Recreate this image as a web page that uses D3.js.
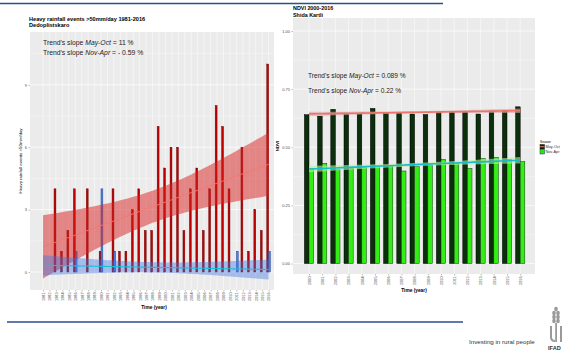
<!DOCTYPE html>
<html>
<head>
<meta charset="utf-8">
<script src="https://cdn.jsdelivr.net/npm/d3@7/dist/d3.min.js"></script>
<style>
  body { margin: 0; background: #fff; }
  svg { display: block; font-family: "Liberation Sans", Arial, sans-serif; }
</style>
</head>
<body>
<svg id="chart" width="564" height="351"></svg>
<script>
// ---- data ----
const rainYears = [1981,1982,1983,1984,1985,1986,1987,1988,1989,1990,1991,1992,1993,1994,1995,1996,1997,1998,
                   1999,2000,2001,2002,2003,2004,2005,2006,2007,2008,2009,2010,2011,2012,2013,2014,2015,2016];
const rainMayOct = [0,0,4,1,2,4,0,4,0,1,0,4,1,1,3,4,2,2,7,5,6,6,2,4,5,2,4,8,7,4,0,6,1,3,2,10];
const rainNovApr = [0,0,0,0,0,1,0,0,0,4,0,1,0,0,0,0,0,0,0,0,0,0,0,0,0,0,0,0,0,0,1,0,0,0,0,1];
const rainTicks = [0,3,6,9];

const ndviYears = [2000,2001,2002,2003,2004,2005,2006,2007,2008,2009,2010,2011,2012,2013,2014,2015,2016];
const ndviMayOct = [0.640,0.634,0.663,0.646,0.646,0.667,0.646,0.649,0.643,0.641,0.650,0.652,0.652,0.643,0.656,0.656,0.674];
const ndviNovApr = [0.409,0.431,0.405,0.409,0.417,0.419,0.419,0.398,0.417,0.424,0.448,0.431,0.409,0.452,0.457,0.448,0.438];
const ndviTicks = [0,0.25,0.5,0.75,1];
const seasons = ["May-Oct","Nov-Apr"];

const svg = d3.select("#chart");
const panelBg = "#ebebeb", tickCol = "#4d4d4d";

// simple least squares fit, with a 95% confidence band like geom_smooth(method = "lm")
function fitLm(xs, ys, tCrit) {
  const n = xs.length, xbar = d3.mean(xs), ybar = d3.mean(ys);
  const sxx = d3.sum(xs, x => (x - xbar) ** 2);
  const sxy = d3.sum(xs, (x, i) => (x - xbar) * (ys[i] - ybar));
  const b = sxy / sxx, a = ybar - b * xbar;
  const sse = d3.sum(xs, (x, i) => (ys[i] - a - b * x) ** 2);
  const s = Math.sqrt(sse / (n - 2));
  return x0 => {
    const fit = a + b * x0;
    const se = tCrit * s * Math.sqrt(1 / n + (x0 - xbar) ** 2 / sxx);
    return { x: x0, fit: fit, lo: fit - se, hi: fit + se };
  };
}

function gridAndAxes(g, x, y, cats, majors, minors, left, right, top, bottom, fmtY) {
  g.append("rect").attr("x", left).attr("y", top).attr("width", right - left).attr("height", bottom - top)
    .attr("fill", panelBg);
  g.selectAll(".minor").data(minors).join("line")
    .attr("x1", left).attr("x2", right).attr("y1", d => y(d)).attr("y2", d => y(d))
    .attr("stroke", "#fff").attr("stroke-width", 0.35);
  g.selectAll(".major").data(majors).join("line")
    .attr("x1", left).attr("x2", right).attr("y1", d => y(d)).attr("y2", d => y(d))
    .attr("stroke", "#fff").attr("stroke-width", 0.7);
  g.selectAll(".vgrid").data(cats).join("line")
    .attr("x1", d => x(d)).attr("x2", d => x(d)).attr("y1", top).attr("y2", bottom)
    .attr("stroke", "#fff").attr("stroke-width", 0.5);

  const ya = g.append("g").attr("transform", `translate(${left},0)`)
    .call(d3.axisLeft(y).tickValues(majors).tickFormat(fmtY).tickSize(1.5).tickPadding(1.5));
  ya.select(".domain").remove();
  ya.selectAll("line").attr("stroke", "#555").attr("stroke-width", 0.4);
  ya.selectAll("text").attr("font-size", 4).attr("fill", tickCol).attr("font-family", null);

  const xa = g.append("g").attr("transform", `translate(0,${bottom})`)
    .call(d3.axisBottom(x).tickValues(cats).tickFormat(d3.format("d")).tickSize(1.5).tickPadding(1));
  xa.select(".domain").remove();
  xa.selectAll("line").attr("stroke", "#555").attr("stroke-width", 0.4);
  xa.selectAll("text").attr("font-size", 3.8).attr("fill", tickCol).attr("font-family", null)
    .attr("transform", "rotate(-90)").attr("text-anchor", "end")
    .attr("x", -2.5).attr("y", 0).attr("dy", "0.35em");
}

function bandPath(x, y) {
  return d3.area().x(d => x(d.x)).y0(d => y(d.lo)).y1(d => y(d.hi));
}

// ================= left chart: heavy rainfall =================
{
  const L = 30, R = 274, T = 32, B = 290;
  const x = d3.scaleLinear().domain([1981, 2016]).range([43, 268.6]);
  const y = d3.scaleLinear().domain([-0.865, 11.54]).range([B, T]);
  const g = svg.append("g");
  gridAndAxes(g, x, y, rainYears, rainTicks, [1.5, 4.5, 7.5, 10.5], L, R, T, B, d3.format("d"));

  const bw = 1.9, off = 0.9;
  g.selectAll(".rMay").data(rainYears.filter((d, i) => rainMayOct[i] > 0)).join("rect")
    .attr("x", d => x(d) - off - bw / 2).attr("width", bw)
    .attr("y", d => y(rainMayOct[rainYears.indexOf(d)]))
    .attr("height", d => y(0) - y(rainMayOct[rainYears.indexOf(d)]))
    .attr("fill", "#c00000").attr("stroke", "#700000").attr("stroke-width", 0.45);
  g.selectAll(".rNov").data(rainYears.filter((d, i) => rainNovApr[i] > 0)).join("rect")
    .attr("x", d => x(d) + off - bw / 2).attr("width", bw)
    .attr("y", d => y(rainNovApr[rainYears.indexOf(d)]))
    .attr("height", d => y(0) - y(rainNovApr[rainYears.indexOf(d)]))
    .attr("fill", "#4d7fe0").attr("stroke", "#24479a").attr("stroke-width", 0.45);

  const grid = d3.range(1981, 2016.01, 0.5);
  const fitMay = fitLm(rainYears, rainMayOct, 2.032), fitNov = fitLm(rainYears, rainNovApr, 2.032);
  const mayPts = grid.map(fitMay), novPts = grid.map(fitNov);
  g.append("path").attr("d", bandPath(x, y)(mayPts)).attr("fill", "#d82020").attr("opacity", 0.5);
  g.append("path").attr("d", bandPath(x, y)(novPts)).attr("fill", "#3a74e6").attr("opacity", 0.4);
  const line = d3.line().x(d => x(d.x)).y(d => y(d.fit));
  g.append("path").attr("d", line(mayPts)).attr("fill", "none").attr("stroke", "#f8766d").attr("stroke-width", 0.9);
  g.append("path").attr("d", line(novPts)).attr("fill", "none").attr("stroke", "#18c0d4").attr("stroke-width", 1.1);

  const t1 = g.append("text").attr("x", 43).attr("y", 45).attr("font-size", 6.8).attr("fill", "#222");
  t1.append("tspan").text("Trend's slope ");
  t1.append("tspan").attr("font-style", "italic").text("May-Oct");
  t1.append("tspan").text(" = 11 %");
  const t2 = g.append("text").attr("x", 43).attr("y", 55).attr("font-size", 6.8).attr("fill", "#222");
  t2.append("tspan").text("Trend's slope ");
  t2.append("tspan").attr("font-style", "italic").text("Nov-Apr");
  t2.append("tspan").text(" = - 0.59 %");

  g.append("text").attr("x", 29).attr("y", 21).attr("font-size", 5.6).attr("font-weight", "bold")
    .text("Heavy rainfall events >50mm/day 1981-2016");
  g.append("text").attr("x", 29).attr("y", 26.5).attr("font-size", 5.6).attr("font-weight", "bold")
    .text("Dedoplistskaro");
  g.append("text").attr("transform", `translate(22,${(T + B) / 2}) rotate(-90)`).attr("text-anchor", "middle")
    .attr("font-size", 4.4).text("Heavy rainfall events >50mm/day");
  g.append("text").attr("x", (L + R) / 2 + 2).attr("y", 309).attr("text-anchor", "middle")
    .attr("font-size", 4.8).attr("font-weight", "bold").text("Time (year)");
}

// ================= right chart: NDVI =================
{
  const L = 293, R = 535, T = 18, B = 274;
  const x = d3.scaleLinear().domain([2000, 2016]).range([309, 520.2]);
  const y = d3.scaleLinear().domain([-0.045, 1.056]).range([B, T]);
  const g = svg.append("g");
  gridAndAxes(g, x, y, ndviYears, ndviTicks, [0.125, 0.375, 0.625, 0.875], L, R, T, B, d3.format(".2f"));

  const bw = 4.6;
  g.selectAll(".nMay").data(ndviYears).join("rect")
    .attr("x", d => x(d) - bw).attr("width", bw)
    .attr("y", (d, i) => y(ndviMayOct[i])).attr("height", (d, i) => y(0) - y(ndviMayOct[i]))
    .attr("fill", "#0a2f0a").attr("stroke", "#000").attr("stroke-width", 0.5);
  g.selectAll(".nNov").data(ndviYears).join("rect")
    .attr("x", d => x(d)).attr("width", bw)
    .attr("y", (d, i) => y(ndviNovApr[i])).attr("height", (d, i) => y(0) - y(ndviNovApr[i]))
    .attr("fill", "#33ee14").attr("stroke", "#0c3a0c").attr("stroke-width", 0.5);

  const grid = d3.range(2000, 2016.01, 0.5);
  const fitMay = fitLm(ndviYears, ndviMayOct, 2.131), fitNov = fitLm(ndviYears, ndviNovApr, 2.131);
  const mayPts = grid.map(fitMay), novPts = grid.map(fitNov);
  g.append("path").attr("d", bandPath(x, y)(mayPts)).attr("fill", "#e0a0a0").attr("opacity", 0.6);
  g.append("path").attr("d", bandPath(x, y)(novPts)).attr("fill", "#b8f0a0").attr("opacity", 0.6);
  const line = d3.line().x(d => x(d.x)).y(d => y(d.fit));
  g.append("path").attr("d", line(mayPts)).attr("fill", "none").attr("stroke", "#ec7468").attr("stroke-width", 1.6);
  g.append("path").attr("d", line(novPts)).attr("fill", "none").attr("stroke", "#16bcc8").attr("stroke-width", 1.6);

  const t1 = g.append("text").attr("x", 308).attr("y", 78).attr("font-size", 6.6).attr("fill", "#222");
  t1.append("tspan").text("Trend's slope ");
  t1.append("tspan").attr("font-style", "italic").text("May-Oct");
  t1.append("tspan").text(" = 0.089 %");
  const t2 = g.append("text").attr("x", 308).attr("y", 92.5).attr("font-size", 6.6).attr("fill", "#222");
  t2.append("tspan").text("Trend's slope ");
  t2.append("tspan").attr("font-style", "italic").text("Nov-Apr");
  t2.append("tspan").text(" = 0.22 %");

  g.append("text").attr("x", 293).attr("y", 10).attr("font-size", 5.4).attr("font-weight", "bold").text("NDVI 2000-2016");
  g.append("text").attr("x", 293).attr("y", 16.5).attr("font-size", 5.4).attr("font-weight", "bold").text("Shida Kartli");
  g.append("text").attr("transform", `translate(279,${(T + B) / 2}) rotate(-90)`).attr("text-anchor", "middle")
    .attr("font-size", 4.4).attr("font-weight", "bold").text("NDVI");
  g.append("text").attr("x", (L + R) / 2).attr("y", 292).attr("text-anchor", "middle")
    .attr("font-size", 4.8).attr("font-weight", "bold").text("Time (year)");

  // legend
  const lg = g.append("g").attr("transform", "translate(540,140)");
  lg.append("text").attr("x", 0).attr("y", 3).attr("font-size", 3.2).text("Season");
  const keyFill = ["#0a2f0a", "#33ee14"], keyLine = ["#ec7468", "#16bcc8"];
  seasons.forEach((s, i) => {
    const ky = 4.5 + i * 5;
    lg.append("rect").attr("x", 0).attr("y", ky).attr("width", 4.5).attr("height", 4.5)
      .attr("fill", keyFill[i]).attr("stroke", "#000").attr("stroke-width", 0.4);
    lg.append("line").attr("x1", 0).attr("x2", 4.5).attr("y1", ky + 2.25).attr("y2", ky + 2.25)
      .attr("stroke", keyLine[i]).attr("stroke-width", 1);
    lg.append("text").attr("x", 5.5).attr("y", ky + 3.6).attr("font-size", 3.8).attr("fill", "#333").text(s);
  });
}

// ================= slide decoration =================
svg.append("line").attr("x1", 0).attr("x2", 443).attr("y1", 3.5).attr("y2", 3.5)
  .attr("stroke", "#2b4f8c").attr("stroke-width", 1.4);
svg.append("line").attr("x1", 7).attr("x2", 463).attr("y1", 322).attr("y2", 322)
  .attr("stroke", "#2b4f8c").attr("stroke-width", 1.4);
svg.append("text").attr("x", 469).attr("y", 344).attr("font-size", 6.2).attr("fill", "#333")
  .text("Investing in rural people");

// small IFAD mark
const logo = svg.append("g").attr("fill", "#9a9a9a");
[[556, 309], [554, 313], [558, 313], [554, 317], [558, 317], [554, 321], [558, 321]].forEach(p => {
  logo.append("ellipse").attr("cx", p[0]).attr("cy", p[1]).attr("rx", 1.8).attr("ry", 2.2);
});
logo.append("path").attr("d", "M550,326 L552,326 L552,337 Q552,340 555,340 L555,342 Q550,342 550,337 Z");
logo.append("path").attr("d", "M560,326 L562,326 L562,342 L560,342 Z");
logo.append("rect").attr("x", 555.2).attr("y", 323).attr("width", 1.8).attr("height", 19);
svg.append("text").attr("x", 548).attr("y", 349.5).attr("font-size", 5.6).attr("font-weight", "bold")
  .attr("fill", "#333").text("IFAD");
</script>
</body>
</html>
